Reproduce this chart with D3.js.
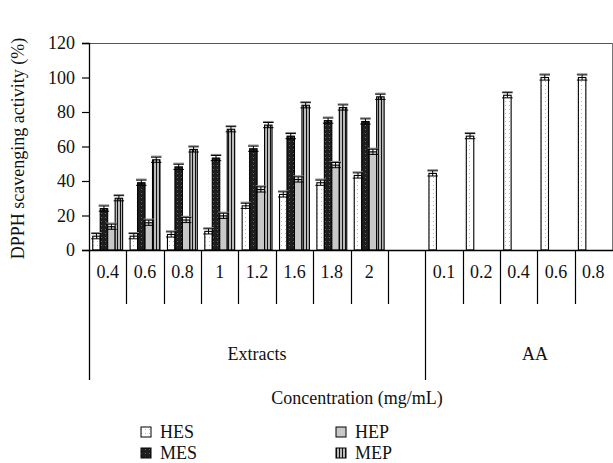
<!DOCTYPE html>
<html><head><meta charset="utf-8">
<script src="https://cdn.jsdelivr.net/npm/d3@7/dist/d3.min.js"></script>
<style>body{margin:0;background:#fff}svg{display:block;font-family:"Liberation Serif","DejaVu Serif",serif}</style>
</head><body><svg id="c" width="613" height="463"></svg>
<script>
const extractCats = ["0.4","0.6","0.8","1","1.2","1.6","1.8","2"];
const aaCats = ["0.1","0.2","0.4","0.6","0.8"];
const groups = ["Extracts","AA"];
const seriesNames = ["HES","MES","HEP","MEP"];
const HES = [8, 8, 9, 10.8, 25.6, 32.2, 39, 43.2];
const MES = [24, 39, 48.2, 53.3, 58.7, 66, 75, 74.5];
const HEP = [13.5, 15.8, 17.4, 19.8, 35.1, 40.9, 49.2, 56.9];
const MEP = [30, 52.3, 58.3, 70, 72.4, 83.9, 82.6, 88.8];
const AA = [44.4, 66, 89.7, 100, 100];
const errHES = [1.5, 1.5, 1.5, 1.5, 1.5, 1.5, 1.5, 1.5];
const errMES = [1.5, 1.5, 1.5, 1.5, 1.5, 1.5, 1.5, 1.5];
const errHEP = [1.5, 1.5, 1.5, 1.5, 1.5, 1.5, 1.5, 1.5];
const errMEP = [1.5, 1.5, 1.5, 1.5, 1.5, 1.5, 1.5, 1.5];
const errAA = [1.5, 1.5, 1.5, 1.5, 1.5];
const yTicks = [0, 20, 40, 60, 80, 100, 120];
const yTitle = "DPPH scavenging activity (%)";
const xTitle = "Concentration (mg/mL)";

const FS = 18;
const svg = d3.select("#c");
const defs = svg.append("defs");
const pHES = defs.append("pattern").attr("id","pHES").attr("patternUnits","userSpaceOnUse").attr("width",4).attr("height",4);
pHES.append("rect").attr("width",4).attr("height",4).attr("fill","#fff");
pHES.append("rect").attr("x",1).attr("y",1).attr("width",1).attr("height",1).attr("fill","#bbb");
const pMES = defs.append("pattern").attr("id","pMES").attr("patternUnits","userSpaceOnUse").attr("width",4).attr("height",4);
pMES.append("rect").attr("width",4).attr("height",4).attr("fill","#1e1e1e");
pMES.append("rect").attr("x",1).attr("y",1).attr("width",1).attr("height",1).attr("fill","#666");
const pMEP = defs.append("pattern").attr("id","pMEP").attr("patternUnits","userSpaceOnUse").attr("width",3).attr("height",3);
pMEP.append("rect").attr("width",3).attr("height",3).attr("fill","#bbb");
pMEP.append("rect").attr("x",0).attr("width",1).attr("height",3).attr("fill","#111");
const fills = {HES:"url(#pHES)", MES:"url(#pMES)", HEP:"#c8c8c8", MEP:"url(#pMEP)"};

const m = {l:89, r:612, t:43, b:250};
const slotKeys = extractCats.map(c=>"E"+c).concat(["gap"]).concat(aaCats.map(c=>"A"+c));
const x = d3.scaleBand().domain(slotKeys).range([m.l, m.r]).paddingInner(0).paddingOuter(0);
const xs = d3.scaleBand().domain(seriesNames).range([0, x.bandwidth()]).paddingInner(0).paddingOuter(0.5);
const y = d3.scaleLinear().domain([0,120]).range([m.b, m.t]);

svg.append("line").attr("x1",m.l).attr("x2",m.r).attr("y1",m.t+0.5).attr("y2",m.t+0.5).attr("stroke","#555").attr("stroke-width",1.2);
svg.append("line").attr("x1",m.r+0.5).attr("x2",m.r+0.5).attr("y1",m.t).attr("y2",m.b).attr("stroke","#777").attr("stroke-width",1);

const yAxis = svg.append("g").attr("transform",`translate(${m.l},0)`)
  .call(d3.axisLeft(y).tickValues(yTicks).tickSize(7).tickPadding(7).tickFormat(d3.format("d")));
yAxis.select(".domain").attr("stroke","#000").attr("stroke-width",1.3);
yAxis.selectAll(".tick line").attr("stroke","#000").attr("stroke-width",1.2);
yAxis.selectAll("text").attr("font-size",FS).attr("font-family","Liberation Serif").attr("fill","#111");

svg.append("text").attr("transform",`translate(24,${(m.t+m.b)/2+2}) rotate(-90)`)
  .attr("text-anchor","middle").attr("font-size",FS).attr("fill","#111").text(yTitle);

const data = [];
const seriesVals = {HES, MES, HEP, MEP};
const seriesErr = {HES:errHES, MES:errMES, HEP:errHEP, MEP:errMEP};
extractCats.forEach((c,i)=>{
  seriesNames.forEach(s=>data.push({slot:"E"+c, s, v:seriesVals[s][i], e:seriesErr[s][i]}));
});
aaCats.forEach((c,i)=>data.push({slot:"A"+c, s:"HES", v:AA[i], e:errAA[i]}));

const bars = svg.append("g");
bars.selectAll("rect").data(data).join("rect")
  .attr("x",d=>x(d.slot)+xs(d.s))
  .attr("y",d=>y(d.v))
  .attr("width",xs.bandwidth())
  .attr("height",d=>y(0)-y(d.v))
  .attr("fill",d=>fills[d.s])
  .attr("stroke","#000").attr("stroke-width",1.1);

const eb = svg.append("g");
data.forEach(d=>{
  const cx = x(d.slot)+xs(d.s)+xs.bandwidth()/2;
  const hw = xs.bandwidth()/2+1.5;
  eb.append("line").attr("x1",cx-hw).attr("x2",cx+hw).attr("y1",y(d.v+d.e)-1).attr("y2",y(d.v+d.e)-1).attr("stroke","#888").attr("stroke-width",1.2);
  eb.append("line").attr("x1",cx).attr("x2",cx).attr("y1",y(d.v+d.e)).attr("y2",y(d.v-d.e)).attr("stroke","#000").attr("stroke-width",1);
  eb.append("line").attr("x1",cx-hw).attr("x2",cx+hw).attr("y1",y(d.v+d.e)).attr("y2",y(d.v+d.e)).attr("stroke","#000").attr("stroke-width",1);
  eb.append("line").attr("x1",cx-hw).attr("x2",cx+hw).attr("y1",y(d.v-d.e)).attr("y2",y(d.v-d.e)).attr("stroke","#000").attr("stroke-width",1);
});

svg.append("line").attr("x1",m.l).attr("x2",613).attr("y1",m.b+0.5).attr("y2",m.b+0.5).attr("stroke","#000").attr("stroke-width",1.3);

const ax = svg.append("g");
slotKeys.forEach((k,i)=>{
  if(i>0){
    const xx = Math.round(x(k))+0.5;
    const long = (k==="A0.1");
    ax.append("line").attr("x1",xx).attr("x2",xx).attr("y1",m.b).attr("y2",long?380:304).attr("stroke","#000").attr("stroke-width",1.2);
  }
});
ax.append("line").attr("x1",m.l+0.5).attr("x2",m.l+0.5).attr("y1",m.b).attr("y2",380).attr("stroke","#000").attr("stroke-width",1.3);
extractCats.forEach(c=>ax.append("text").attr("x",x("E"+c)+x.bandwidth()/2).attr("y",278).attr("text-anchor","middle").attr("font-size",FS).attr("fill","#111").text(c));
aaCats.forEach(c=>ax.append("text").attr("x",x("A"+c)+x.bandwidth()/2).attr("y",278).attr("text-anchor","middle").attr("font-size",FS).attr("fill","#111").text(c));
ax.append("text").attr("x",(m.l+x("A0.1"))/2).attr("y",360).attr("text-anchor","middle").attr("font-size",FS).attr("fill","#111").text(groups[0]);
ax.append("text").attr("x",535).attr("y",360).attr("text-anchor","middle").attr("font-size",FS).attr("fill","#111").text(groups[1]);

svg.append("text").attr("x",357).attr("y",404).attr("text-anchor","middle").attr("font-size",FS).attr("fill","#111").text(xTitle);

const legPos = [[141,438],[141,459],[336,438],[336,459]];
seriesNames.forEach((s,i)=>{
  const [lx,ly] = legPos[i];
  svg.append("rect").attr("x",lx).attr("y",ly-11).attr("width",10).attr("height",10)
    .attr("fill",fills[s]).attr("stroke","#000").attr("stroke-width",1);
  svg.append("text").attr("x",lx+19).attr("y",ly).attr("font-size",FS).attr("fill","#111").text(s);
});
</script></body></html>
